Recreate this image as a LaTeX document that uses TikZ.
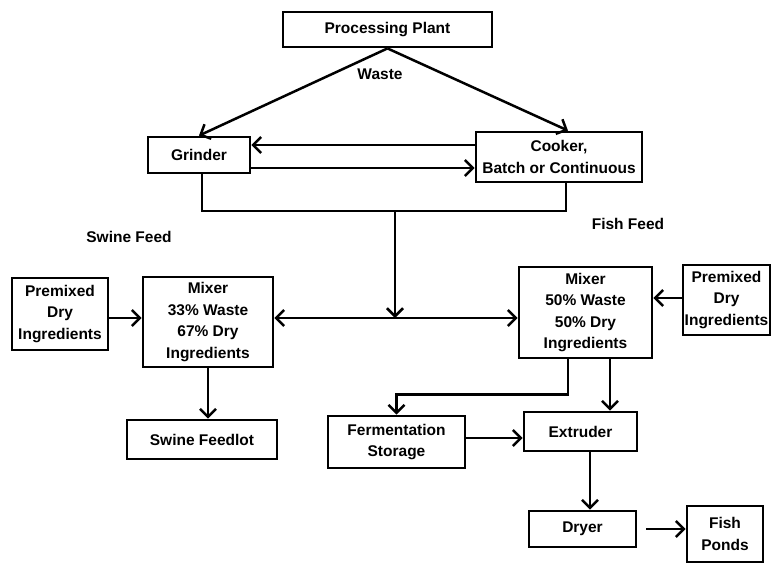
\documentclass[tikz,border=0pt]{standalone}
\usepackage{fontspec}
\setmainfont{Liberation Sans}
\usepackage{tikz}
\usetikzlibrary{arrows.meta, calc}

\begin{document}
\begin{tikzpicture}[
    x=1pt, y=-1pt,
    every node/.style={font=\fontsize{15.5}{21.5}\selectfont\bfseries},
    box/.style={rectangle, draw, line width=2.8pt, inner sep=1pt, align=center},
    line/.style={line width=2.5pt},
    edge/.style={line width=2.5pt, -{Straight Barb[length=8pt, width=16pt]}},
    both/.style={line width=2.5pt, {Straight Barb[length=8pt, width=16pt]}-{Straight Barb[length=8pt, width=16pt]}}
]
\useasboundingbox (0,0) rectangle (772,563);
\node [box, minimum width=209, minimum height=35] (plant) at (387.5,29.5) {Processing Plant};
\node [box, minimum width=102, minimum height=36] (grind) at (199,155) {Grinder};
\node [box, minimum width=166, minimum height=50] (cook) at (559,157) {Cooker,\\Batch or Continuous};
\node [box, minimum width=96, minimum height=72] (premL) at (60,314) {Premixed\\Dry\\Ingredients};
\node [box, minimum width=130, minimum height=90] (mixS) at (208,322) {Mixer\\33\% Waste\\67\% Dry\\Ingredients};
\node [box, minimum width=150, minimum height=39] (feedlot) at (202,439.5) {Swine Feedlot};
\node [box, minimum width=133, minimum height=91] (mixF) at (585.5,312.5) {Mixer\\50\% Waste\\50\% Dry\\Ingredients};
\node [box, minimum width=87, minimum height=70] (premR) at (726.5,300) {Premixed\\Dry\\Ingredients};
\node [box, minimum width=137, minimum height=52] (ferm) at (396.5,442) {Fermentation\\Storage};
\node [box, minimum width=113, minimum height=39] (extr) at (580.5,431.5) {Extruder};
\node [box, minimum width=107, minimum height=36] (dryer) at (582.5,529) {Dryer};
\node [box, minimum width=76, minimum height=56] (ponds) at (725,534) {Fish\\Ponds};
\node (waste) at (380,74) {Waste};
\node (swine) at (129,237) {Swine Feed};
\node (fish) at (628,224) {Fish Feed};
\coordinate (join) at (395,211);
\coordinate (split) at (395,318);
% waste to grinder and cooker
\draw[edge] (plant.south) -- (grind.north);
\draw[edge] (plant.south) -- ($(cook.north)+(9,0)$);
\draw[edge] ($(cook.west)+(0,-12)$) -- ($(grind.east)+(0,-10)$);
\draw[edge] ($(grind.east)+(0,13)$) -- ($(cook.west)+(0,11)$);
\draw[line] ($(grind.south)+(3,0)$) |- (join) -| ($(cook.south)+(7,0)$);
\draw[edge] (join) -- (split);
\draw[both] (split -| mixS.east) -- (split -| mixF.west);
% swine feed
\draw[edge] (premL.east |- split) -- (split -| mixS.west);
\draw[edge] (mixS.south) -- (mixS.south |- feedlot.north);
% fish feed
\draw[edge] ($(premR.west)+(0,-2)$) -- ($(premR.west -| mixF.east)+(0,-2)$);
\draw[edge] ($(mixF.south)+(-17.5,0)$) -- ++(0,35) -| (ferm.north);
\draw[edge] ($(mixF.south)+(24.5,0)$) -- ($(mixF.south |- extr.north)+(24.5,0)$);
\draw[edge] ($(ferm.east)+(0,-4)$) -- ($(ferm.east -| extr.west)+(0,-4)$);
\draw[edge] ($(extr.south)+(9.5,0)$) -- ($(extr.south |- dryer.north)+(9.5,0)$);
\draw[edge] ($(dryer.east)+(9,0)$) -- (dryer.east -| ponds.west);
\end{tikzpicture}
\end{document}
